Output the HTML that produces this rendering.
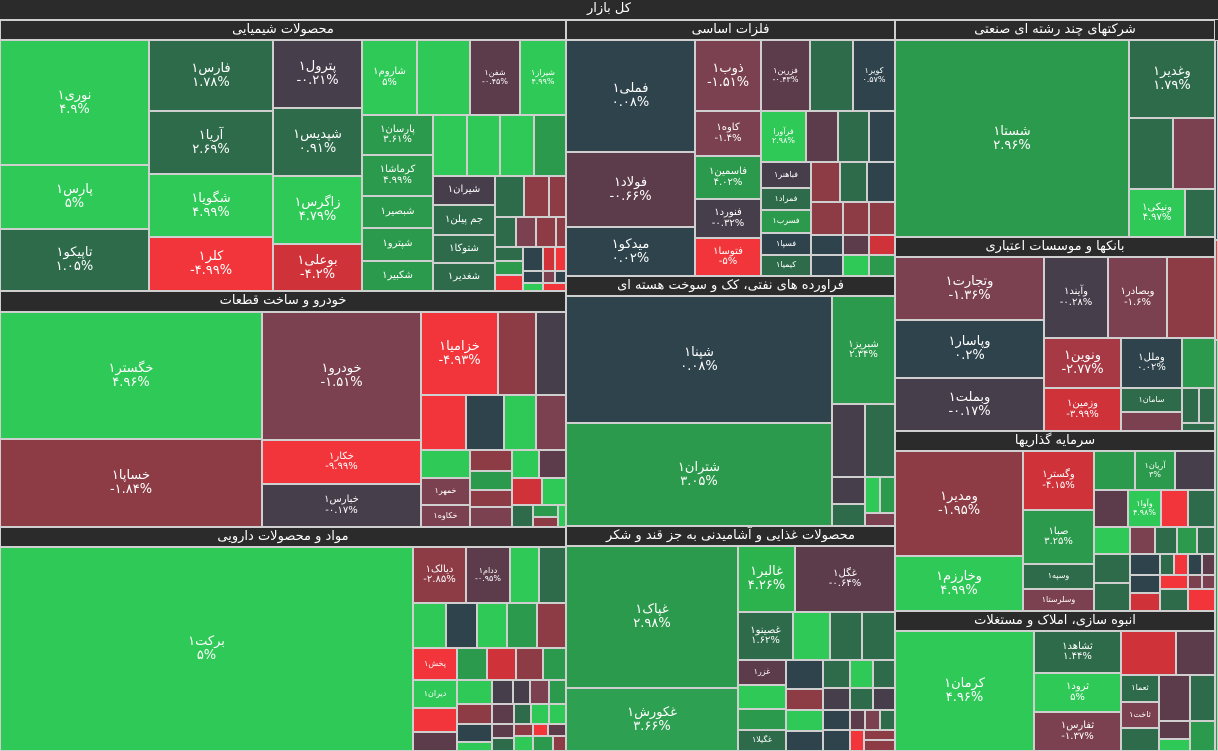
<!DOCTYPE html>
<html><head><meta charset="utf-8">
<style>
body{margin:0;width:1218px;height:751px;overflow:hidden;background:#2b2b2b;position:relative;font-family:"DejaVu Sans","Liberation Sans",sans-serif}
.c{position:absolute;box-sizing:border-box;border:1px solid #cfcfcf;display:flex;flex-direction:column;align-items:center;justify-content:center;color:#fff;font-size:13px;line-height:1.05;overflow:hidden;text-align:center;white-space:nowrap}
.s{font-size:10px}.t{font-size:8px}
.h{position:absolute;box-sizing:border-box;background:#2b2b2b;color:#fff;font-size:13px;text-align:center;border:1px solid #cfcfcf;line-height:18px;overflow:hidden;white-space:nowrap}
.G{background:#2fc957}.g2{background:#2c9a4c}.g3{background:#2d6b4b}.S{background:#2f434c}.P{background:#463e4b}
.M{background:#7b4150}.m2{background:#8d3b45}.R{background:#f1353a}.r2{background:#d0323a}.Q{background:#5c3c4a}
</style></head><body>
<div class="h" style="left:0;top:0;width:1218px;height:20px;border-width:0 0 1px 0">کل بازار</div>

<!-- Chemicals -->
<div class="h" style="left:0;top:20px;width:566px;height:20px">محصولات شیمیایی</div>
<div class="c G" style="left:0;top:40px;width:149px;height:125px">نوری۱<span>۴.۹%</span></div>
<div class="c G" style="left:0;top:165px;width:149px;height:64px">پارس۱<span>۵%</span></div>
<div class="c g3" style="left:0;top:229px;width:149px;height:62px">تاپیکو۱<span>۱.۰۵%</span></div>
<div class="c g3" style="left:149px;top:40px;width:124px;height:71px">فارس۱<span>۱.۷۸%</span></div>
<div class="c g3" style="left:149px;top:111px;width:124px;height:63px">آریا۱<span>۲.۶۹%</span></div>
<div class="c G" style="left:149px;top:174px;width:124px;height:63px">شگویا۱<span>۴.۹۹%</span></div>
<div class="c R" style="left:149px;top:237px;width:124px;height:54px">کلر۱<span>-۴.۹۹%</span></div>
<div class="c P" style="left:273px;top:40px;width:89px;height:68px">پترول۱<span>-۰.۲۱%</span></div>
<div class="c g3" style="left:273px;top:108px;width:89px;height:68px">شپدیس۱<span>۰.۹۱%</span></div>
<div class="c G" style="left:273px;top:176px;width:89px;height:68px">زاگرس۱<span>۴.۷۹%</span></div>
<div class="c r2" style="left:273px;top:244px;width:89px;height:47px">بوعلی۱<span>-۴.۲%</span></div>
<div class="c G s" style="left:362px;top:40px;width:55px;height:75px">شاروم۱<span>۵%</span></div>
<div class="c G" style="left:417px;top:40px;width:53px;height:75px"></div>
<div class="c Q t" style="left:470px;top:40px;width:50px;height:75px">شفن۱<span>-۰.۴۵%</span></div>
<div class="c G t" style="left:520px;top:40px;width:46px;height:75px">شیراز۱<span>۴.۹۹%</span></div>
<div class="c g2 s" style="left:362px;top:115px;width:71px;height:40px">پارسان۱<span>۳.۶۱%</span></div>
<div class="c G" style="left:433px;top:115px;width:34px;height:61px"></div>
<div class="c G" style="left:467px;top:115px;width:33px;height:61px"></div>
<div class="c G" style="left:500px;top:115px;width:34px;height:61px"></div>
<div class="c g2" style="left:534px;top:115px;width:32px;height:61px"></div>
<div class="c g2 s" style="left:362px;top:155px;width:71px;height:41px">کرماشا۱<span>۴.۹۹%</span></div>
<div class="c g2 s" style="left:362px;top:196px;width:71px;height:32px">شبصیر۱</div>
<div class="c g2 s" style="left:362px;top:228px;width:71px;height:33px">شپترو۱</div>
<div class="c g2 s" style="left:362px;top:261px;width:71px;height:30px">شکبیر۱</div>
<div class="c P s" style="left:433px;top:176px;width:62px;height:29px">شیران۱</div>
<div class="c g3 s" style="left:433px;top:205px;width:62px;height:30px">جم پیلن۱</div>
<div class="c g3 s" style="left:433px;top:235px;width:62px;height:28px">شتوکا۱</div>
<div class="c g3 s" style="left:433px;top:263px;width:62px;height:28px">شغدیر۱</div>
<div class="c g3" style="left:495px;top:176px;width:29px;height:41px"></div>
<div class="c m2" style="left:524px;top:176px;width:25px;height:41px"></div>
<div class="c m2" style="left:549px;top:176px;width:17px;height:41px"></div>
<div class="c g3" style="left:495px;top:217px;width:21px;height:30px"></div>
<div class="c M" style="left:516px;top:217px;width:20px;height:30px"></div>
<div class="c m2" style="left:536px;top:217px;width:20px;height:30px"></div>
<div class="c m2" style="left:556px;top:217px;width:10px;height:30px"></div>
<div class="c g3" style="left:495px;top:247px;width:28px;height:14px"></div>
<div class="c S" style="left:523px;top:247px;width:20px;height:24px"></div>
<div class="c r2" style="left:543px;top:247px;width:12px;height:24px"></div>
<div class="c R" style="left:555px;top:247px;width:11px;height:24px"></div>
<div class="c g2" style="left:495px;top:261px;width:28px;height:14px"></div>
<div class="c R" style="left:495px;top:275px;width:28px;height:16px"></div>
<div class="c S" style="left:523px;top:271px;width:20px;height:12px"></div>
<div class="c M" style="left:543px;top:271px;width:12px;height:12px"></div>
<div class="c S" style="left:555px;top:271px;width:11px;height:12px"></div>
<div class="c G" style="left:523px;top:283px;width:20px;height:8px"></div>
<div class="c R" style="left:543px;top:283px;width:23px;height:8px"></div>

<!-- Metals -->
<div class="h" style="left:566px;top:20px;width:329px;height:20px">فلزات اساسی</div>
<div class="c S" style="left:566px;top:40px;width:129px;height:112px">فملی۱<span>۰.۰۸%</span></div>
<div class="c Q" style="left:566px;top:152px;width:129px;height:75px">فولاد۱<span>-۰.۶۶%</span></div>
<div class="c S" style="left:566px;top:227px;width:129px;height:49px">میدکو۱<span>۰.۰۲%</span></div>
<div class="c M" style="left:695px;top:40px;width:66px;height:71px">ذوب۱<span>-۱.۵۱%</span></div>
<div class="c M s" style="left:695px;top:111px;width:66px;height:45px">کاوه۱<span>-۱.۴%</span></div>
<div class="c g2 s" style="left:695px;top:156px;width:66px;height:43px">فاسمین۱<span>۴.۰۲%</span></div>
<div class="c P s" style="left:695px;top:199px;width:66px;height:39px">فنورد۱<span>-۰.۳۲%</span></div>
<div class="c R s" style="left:695px;top:238px;width:66px;height:38px">فتوسا۱<span>-۵%</span></div>
<div class="c Q t" style="left:761px;top:40px;width:49px;height:71px">فزرین۱<span>-۰.۴۳%</span></div>
<div class="c g3" style="left:810px;top:40px;width:43px;height:71px"></div>
<div class="c S t" style="left:853px;top:40px;width:42px;height:71px">کویر۱<span>۰.۵۷%</span></div>
<div class="c G t" style="left:761px;top:111px;width:45px;height:51px">فرآورا<span>۲.۹۸%</span></div>
<div class="c Q" style="left:806px;top:111px;width:32px;height:51px"></div>
<div class="c g3" style="left:838px;top:111px;width:31px;height:51px"></div>
<div class="c S" style="left:869px;top:111px;width:26px;height:51px"></div>
<div class="c P t" style="left:761px;top:162px;width:50px;height:26px">فباهنر۱</div>
<div class="c g3 t" style="left:761px;top:188px;width:50px;height:22px">فمراد۱</div>
<div class="c g2 t" style="left:761px;top:210px;width:50px;height:23px">فسرب۱</div>
<div class="c S t" style="left:761px;top:233px;width:50px;height:22px">فسپا۱</div>
<div class="c g3 t" style="left:761px;top:255px;width:50px;height:21px">کیمیا۱</div>
<div class="c m2" style="left:811px;top:162px;width:29px;height:40px"></div>
<div class="c g3" style="left:840px;top:162px;width:27px;height:40px"></div>
<div class="c S" style="left:867px;top:162px;width:28px;height:40px"></div>
<div class="c m2" style="left:811px;top:202px;width:32px;height:33px"></div>
<div class="c m2" style="left:843px;top:202px;width:26px;height:33px"></div>
<div class="c m2" style="left:869px;top:202px;width:26px;height:33px"></div>
<div class="c S" style="left:811px;top:235px;width:32px;height:20px"></div>
<div class="c Q" style="left:843px;top:235px;width:26px;height:20px"></div>
<div class="c r2" style="left:869px;top:235px;width:26px;height:20px"></div>
<div class="c S" style="left:811px;top:255px;width:32px;height:21px"></div>
<div class="c G" style="left:843px;top:255px;width:26px;height:21px"></div>
<div class="c g2" style="left:869px;top:255px;width:26px;height:21px"></div>

<!-- Multi-industry -->
<div class="h" style="left:895px;top:20px;width:320px;height:20px">شرکتهای چند رشته ای صنعتی</div>
<div class="c g2" style="left:895px;top:40px;width:234px;height:197px">شستا۱<span>۲.۹۶%</span></div>
<div class="c g3" style="left:1129px;top:40px;width:86px;height:78px">وغدیر۱<span>۱.۷۹%</span></div>
<div class="c g3" style="left:1129px;top:118px;width:44px;height:71px"></div>
<div class="c M" style="left:1173px;top:118px;width:42px;height:71px"></div>
<div class="c G s" style="left:1129px;top:189px;width:56px;height:48px">ونیکی۱<span>۴.۹۷%</span></div>
<div class="c g3" style="left:1185px;top:189px;width:30px;height:48px"></div>

<!-- Banks -->
<div class="h" style="left:895px;top:237px;width:320px;height:20px">بانکها و موسسات اعتباری</div>
<div class="c M" style="left:895px;top:257px;width:149px;height:63px">وتجارت۱<span>-۱.۳۶%</span></div>
<div class="c S" style="left:895px;top:320px;width:149px;height:58px">وپاسار۱<span>۰.۲%</span></div>
<div class="c P" style="left:895px;top:378px;width:149px;height:53px">وبملت۱<span>-۰.۱۷%</span></div>
<div class="c P s" style="left:1044px;top:257px;width:64px;height:81px">وآیند۱<span>-۰.۲۸%</span></div>
<div class="c M s" style="left:1108px;top:257px;width:59px;height:81px">وبصادر۱<span>-۱.۶%</span></div>
<div class="c m2" style="left:1167px;top:257px;width:48px;height:81px"></div>
<div class="c m2" style="left:1044px;top:338px;width:77px;height:50px;background:#a63943">ونوین۱<span>-۲.۷۷%</span></div>
<div class="c S s" style="left:1121px;top:338px;width:61px;height:50px">وملل۱<span>۰.۰۲%</span></div>
<div class="c g2" style="left:1182px;top:338px;width:33px;height:50px"></div>
<div class="c r2 s" style="left:1044px;top:388px;width:77px;height:43px">وزمین۱<span>-۳.۹۹%</span></div>
<div class="c g3 t" style="left:1121px;top:388px;width:61px;height:24px">سامان۱</div>
<div class="c M" style="left:1121px;top:412px;width:61px;height:19px"></div>
<div class="c g3" style="left:1182px;top:388px;width:17px;height:35px"></div>
<div class="c g3" style="left:1199px;top:388px;width:16px;height:35px"></div>
<div class="c g3" style="left:1182px;top:423px;width:33px;height:8px"></div>

<!-- Investment -->
<div class="h" style="left:895px;top:431px;width:320px;height:20px">سرمایه گذاریها</div>
<div class="c m2" style="left:895px;top:451px;width:128px;height:105px">ومدیر۱<span>-۱.۹۵%</span></div>
<div class="c G" style="left:895px;top:556px;width:128px;height:55px">وخارزم۱<span>۴.۹۹%</span></div>
<div class="c r2 s" style="left:1023px;top:451px;width:71px;height:59px">وگستر۱<span>-۴.۱۵%</span></div>
<div class="c g2 s" style="left:1023px;top:510px;width:71px;height:54px">صبا۱<span>۳.۲۵%</span></div>
<div class="c g3 t" style="left:1023px;top:564px;width:71px;height:25px">وسپه۱</div>
<div class="c M t" style="left:1023px;top:589px;width:71px;height:22px">وسلرستا۱</div>
<div class="c g2" style="left:1094px;top:451px;width:41px;height:39px"></div>
<div class="c g2 t" style="left:1135px;top:451px;width:40px;height:39px">آریان۱<span>۳%</span></div>
<div class="c P" style="left:1175px;top:451px;width:40px;height:39px"></div>
<div class="c Q" style="left:1094px;top:490px;width:34px;height:37px"></div>
<div class="c G t" style="left:1128px;top:490px;width:33px;height:37px">وآوا۱<span>۴.۹۸%</span></div>
<div class="c R" style="left:1161px;top:490px;width:27px;height:37px"></div>
<div class="c g3" style="left:1188px;top:490px;width:27px;height:37px"></div>
<div class="c G" style="left:1094px;top:527px;width:36px;height:27px"></div>
<div class="c M" style="left:1130px;top:527px;width:25px;height:27px"></div>
<div class="c g3" style="left:1155px;top:527px;width:22px;height:27px"></div>
<div class="c g2" style="left:1177px;top:527px;width:20px;height:27px"></div>
<div class="c g3" style="left:1197px;top:527px;width:18px;height:27px"></div>
<div class="c g3" style="left:1094px;top:554px;width:36px;height:29px"></div>
<div class="c g3" style="left:1094px;top:583px;width:36px;height:28px"></div>
<div class="c S" style="left:1130px;top:554px;width:30px;height:21px"></div>
<div class="c g3" style="left:1160px;top:554px;width:14px;height:21px"></div>
<div class="c R" style="left:1174px;top:554px;width:14px;height:21px"></div>
<div class="c S" style="left:1188px;top:554px;width:14px;height:21px"></div>
<div class="c Q" style="left:1202px;top:554px;width:13px;height:21px"></div>
<div class="c S" style="left:1130px;top:575px;width:30px;height:18px"></div>
<div class="c R" style="left:1160px;top:575px;width:28px;height:14px"></div>
<div class="c M" style="left:1188px;top:575px;width:14px;height:14px"></div>
<div class="c M" style="left:1202px;top:575px;width:13px;height:14px"></div>
<div class="c r2" style="left:1130px;top:593px;width:30px;height:18px"></div>
<div class="c g3" style="left:1160px;top:589px;width:28px;height:22px"></div>
<div class="c R" style="left:1188px;top:589px;width:27px;height:22px"></div>

<!-- Real estate -->
<div class="h" style="left:895px;top:611px;width:320px;height:20px">انبوه سازی، املاک و مستغلات</div>
<div class="c G" style="left:895px;top:631px;width:139px;height:120px">کرمان۱<span>۴.۹۶%</span></div>
<div class="c g3 s" style="left:1034px;top:631px;width:87px;height:42px">ثشاهد۱<span>۱.۴۴%</span></div>
<div class="c G s" style="left:1034px;top:673px;width:87px;height:39px">ثرود۱<span>۵%</span></div>
<div class="c M s" style="left:1034px;top:712px;width:87px;height:39px">ثفارس۱<span>-۱.۳۷%</span></div>
<div class="c r2" style="left:1121px;top:631px;width:55px;height:44px"></div>
<div class="c Q" style="left:1176px;top:631px;width:39px;height:44px"></div>
<div class="c g3 t" style="left:1121px;top:675px;width:38px;height:27px">ثعما۱</div>
<div class="c M t" style="left:1121px;top:702px;width:38px;height:26px">ثاخت۱</div>
<div class="c g3" style="left:1121px;top:728px;width:38px;height:23px"></div>
<div class="c Q" style="left:1159px;top:675px;width:31px;height:46px"></div>
<div class="c g3" style="left:1190px;top:675px;width:25px;height:46px"></div>
<div class="c Q" style="left:1159px;top:721px;width:31px;height:18px"></div>
<div class="c G" style="left:1159px;top:739px;width:31px;height:12px"></div>
<div class="c g2" style="left:1190px;top:721px;width:25px;height:30px"></div>

<!-- Auto -->
<div class="h" style="left:0;top:291px;width:566px;height:21px">خودرو و ساخت قطعات</div>
<div class="c G" style="left:0;top:312px;width:262px;height:127px">خگستر۱<span>۴.۹۶%</span></div>
<div class="c m2" style="left:0;top:439px;width:262px;height:88px">خساپا۱<span>-۱.۸۴%</span></div>
<div class="c M" style="left:262px;top:312px;width:159px;height:128px">خودرو۱<span>-۱.۵۱%</span></div>
<div class="c R s" style="left:262px;top:440px;width:159px;height:44px">خکار۱<span>-۹.۹۹%</span></div>
<div class="c P s" style="left:262px;top:484px;width:159px;height:43px">خبارس۱<span>-۰.۱۷%</span></div>
<div class="c R" style="left:421px;top:312px;width:77px;height:83px">خزامیا۱<span>-۴.۹۳%</span></div>
<div class="c m2" style="left:498px;top:312px;width:38px;height:83px"></div>
<div class="c P" style="left:536px;top:312px;width:30px;height:83px"></div>
<div class="c R" style="left:421px;top:395px;width:45px;height:55px"></div>
<div class="c S" style="left:466px;top:395px;width:38px;height:55px"></div>
<div class="c G" style="left:504px;top:395px;width:32px;height:55px"></div>
<div class="c M" style="left:536px;top:395px;width:30px;height:55px"></div>
<div class="c G" style="left:421px;top:450px;width:49px;height:28px"></div>
<div class="c m2" style="left:470px;top:450px;width:42px;height:21px"></div>
<div class="c G" style="left:512px;top:450px;width:27px;height:28px"></div>
<div class="c Q" style="left:539px;top:450px;width:27px;height:28px"></div>
<div class="c g2" style="left:470px;top:471px;width:42px;height:19px"></div>
<div class="c M t" style="left:421px;top:478px;width:49px;height:27px">خمهر۱</div>
<div class="c m2" style="left:470px;top:490px;width:42px;height:17px"></div>
<div class="c r2" style="left:512px;top:478px;width:30px;height:27px"></div>
<div class="c G" style="left:542px;top:478px;width:24px;height:27px"></div>
<div class="c M t" style="left:421px;top:505px;width:49px;height:22px">خکاوه۱</div>
<div class="c M" style="left:470px;top:507px;width:42px;height:20px"></div>
<div class="c g3" style="left:512px;top:505px;width:21px;height:22px"></div>
<div class="c g2" style="left:533px;top:505px;width:25px;height:12px"></div>
<div class="c m2" style="left:533px;top:517px;width:25px;height:10px"></div>
<div class="c G" style="left:558px;top:505px;width:8px;height:22px"></div>

<!-- Pharma -->
<div class="h" style="left:0;top:527px;width:566px;height:20px">مواد و محصولات دارویی</div>
<div class="c G" style="left:0;top:547px;width:413px;height:204px">برکت۱<span>۵%</span></div>
<div class="c m2 s" style="left:413px;top:547px;width:53px;height:56px">دیالک۱<span>-۲.۸۵%</span></div>
<div class="c Q t" style="left:466px;top:547px;width:44px;height:56px">ددام۱<span>-۰.۹۵%</span></div>
<div class="c G" style="left:510px;top:547px;width:29px;height:56px"></div>
<div class="c g3" style="left:539px;top:547px;width:27px;height:56px"></div>
<div class="c G" style="left:413px;top:603px;width:33px;height:45px"></div>
<div class="c S" style="left:446px;top:603px;width:31px;height:45px"></div>
<div class="c G" style="left:477px;top:603px;width:30px;height:45px"></div>
<div class="c g2" style="left:507px;top:603px;width:30px;height:45px"></div>
<div class="c m2" style="left:537px;top:603px;width:29px;height:45px"></div>
<div class="c R t" style="left:413px;top:648px;width:44px;height:32px">پخش۱</div>
<div class="c g2" style="left:457px;top:648px;width:30px;height:32px"></div>
<div class="c r2" style="left:487px;top:648px;width:29px;height:32px"></div>
<div class="c m2" style="left:516px;top:648px;width:27px;height:32px"></div>
<div class="c g2" style="left:543px;top:648px;width:23px;height:32px"></div>
<div class="c G t" style="left:413px;top:680px;width:44px;height:28px">دیران۱</div>
<div class="c G" style="left:457px;top:680px;width:35px;height:24px"></div>
<div class="c P" style="left:492px;top:680px;width:21px;height:24px"></div>
<div class="c P" style="left:513px;top:680px;width:17px;height:24px"></div>
<div class="c M" style="left:530px;top:680px;width:19px;height:24px"></div>
<div class="c g2" style="left:549px;top:680px;width:17px;height:24px"></div>
<div class="c R" style="left:413px;top:708px;width:44px;height:24px"></div>
<div class="c m2" style="left:457px;top:704px;width:35px;height:20px"></div>
<div class="c Q" style="left:492px;top:704px;width:22px;height:20px"></div>
<div class="c g3" style="left:514px;top:704px;width:17px;height:20px"></div>
<div class="c G" style="left:531px;top:704px;width:18px;height:20px"></div>
<div class="c G" style="left:549px;top:704px;width:17px;height:20px"></div>
<div class="c Q" style="left:413px;top:732px;width:44px;height:19px"></div>
<div class="c S" style="left:457px;top:724px;width:35px;height:18px"></div>
<div class="c G" style="left:457px;top:742px;width:35px;height:9px"></div>
<div class="c Q" style="left:492px;top:724px;width:22px;height:14px"></div>
<div class="c m2" style="left:514px;top:724px;width:19px;height:12px"></div>
<div class="c R" style="left:533px;top:724px;width:15px;height:12px"></div>
<div class="c Q" style="left:548px;top:724px;width:18px;height:12px"></div>
<div class="c g3" style="left:492px;top:738px;width:22px;height:13px"></div>
<div class="c G" style="left:514px;top:736px;width:19px;height:15px"></div>
<div class="c g2" style="left:533px;top:736px;width:20px;height:15px"></div>
<div class="c m2" style="left:553px;top:736px;width:13px;height:15px"></div>

<!-- Petroleum -->
<div class="h" style="left:566px;top:276px;width:329px;height:20px">فراورده های نفتی، کک و سوخت هسته ای</div>
<div class="c S" style="left:566px;top:296px;width:266px;height:127px">شپنا۱<span>۰.۰۸%</span></div>
<div class="c g2" style="left:566px;top:423px;width:266px;height:103px">شتران۱<span>۳.۰۵%</span></div>
<div class="c g2 s" style="left:832px;top:296px;width:63px;height:108px">شبریز۱<span>۲.۳۴%</span></div>
<div class="c P" style="left:832px;top:404px;width:33px;height:73px"></div>
<div class="c g3" style="left:865px;top:404px;width:30px;height:73px"></div>
<div class="c P" style="left:832px;top:477px;width:33px;height:27px"></div>
<div class="c g3" style="left:832px;top:504px;width:33px;height:22px"></div>
<div class="c G" style="left:865px;top:477px;width:15px;height:36px"></div>
<div class="c g2" style="left:880px;top:477px;width:15px;height:36px"></div>
<div class="c M" style="left:865px;top:513px;width:30px;height:13px"></div>

<!-- Food -->
<div class="h" style="left:566px;top:526px;width:329px;height:20px">محصولات غذایی و آشامیدنی به جز قند و شکر</div>
<div class="c g2" style="left:566px;top:546px;width:172px;height:142px">غپاک۱<span>۲.۹۸%</span></div>
<div class="c g2" style="left:566px;top:688px;width:172px;height:63px;background:#2ea051">غکورش۱<span>۳.۶۶%</span></div>
<div class="c G" style="left:738px;top:546px;width:57px;height:66px;background:#2cb34e">غالبر۱<span>۴.۲۶%</span></div>
<div class="c Q s" style="left:795px;top:546px;width:100px;height:66px">غگل۱<span>-۰.۶۴%</span></div>
<div class="c g3 s" style="left:738px;top:612px;width:55px;height:48px">غصینو۱<span>۱.۶۲%</span></div>
<div class="c G" style="left:793px;top:612px;width:37px;height:48px"></div>
<div class="c g3" style="left:830px;top:612px;width:32px;height:48px"></div>
<div class="c g3" style="left:862px;top:612px;width:33px;height:48px"></div>
<div class="c Q t" style="left:738px;top:660px;width:48px;height:25px">غزر۱</div>
<div class="c G" style="left:738px;top:685px;width:48px;height:24px"></div>
<div class="c g2" style="left:738px;top:709px;width:48px;height:21px"></div>
<div class="c g3 t" style="left:738px;top:730px;width:48px;height:21px">غگیلا۱</div>
<div class="c S" style="left:786px;top:660px;width:37px;height:29px"></div>
<div class="c m2" style="left:786px;top:689px;width:37px;height:21px"></div>
<div class="c G" style="left:786px;top:710px;width:37px;height:21px"></div>
<div class="c S" style="left:786px;top:731px;width:37px;height:20px"></div>
<div class="c g3" style="left:823px;top:660px;width:27px;height:28px"></div>
<div class="c G" style="left:850px;top:660px;width:23px;height:28px"></div>
<div class="c g3" style="left:873px;top:660px;width:22px;height:28px"></div>
<div class="c P" style="left:823px;top:688px;width:27px;height:22px"></div>
<div class="c g3" style="left:850px;top:688px;width:23px;height:22px"></div>
<div class="c P" style="left:873px;top:688px;width:22px;height:22px"></div>
<div class="c S" style="left:823px;top:710px;width:27px;height:20px"></div>
<div class="c Q" style="left:850px;top:710px;width:15px;height:20px"></div>
<div class="c M" style="left:865px;top:710px;width:15px;height:20px"></div>
<div class="c g3" style="left:880px;top:710px;width:15px;height:20px"></div>
<div class="c S" style="left:823px;top:730px;width:27px;height:21px"></div>
<div class="c R" style="left:850px;top:730px;width:14px;height:21px"></div>
<div class="c m2" style="left:864px;top:730px;width:31px;height:10px"></div>
<div class="c m2" style="left:864px;top:740px;width:31px;height:11px"></div>

<!-- right sliver -->
<div class="c S" style="left:1215px;top:40px;width:3px;height:200px"></div>
<div class="c R" style="left:1215px;top:240px;width:3px;height:100px"></div>
<div class="c g2" style="left:1215px;top:340px;width:3px;height:411px"></div>
</body></html>
